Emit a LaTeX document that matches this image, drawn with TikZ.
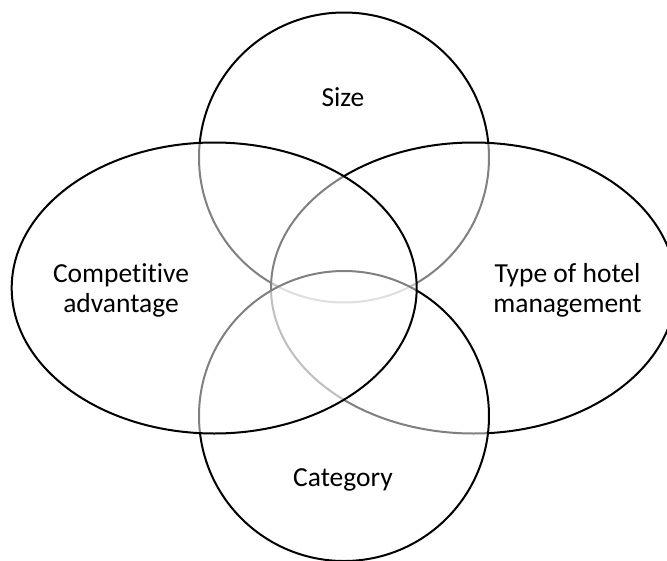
\documentclass[tikz,border=0pt]{standalone}
\usepackage{fontspec}
\setmainfont{Carlito}[Ligatures=NoCommon]
\usetikzlibrary{shapes.geometric}
\tikzset{venn/.style={draw=black,line width=2pt,fill=white,fill opacity=0.5,inner sep=0pt,outer sep=0pt}}
\tikzset{lbl/.style={font=\fontsize{27.5}{30}\selectfont,align=center,inner sep=0pt}}
\begin{document}
\begin{tikzpicture}[x=1pt,y=-1pt]
\useasboundingbox (0,0) rectangle (667,560);
% the four sets, drawn bottom layer first
\node[venn,circle,minimum size=290pt] (size) at (344,157.5) {};
\node[venn,ellipse,minimum width=405pt,minimum height=291pt] (mgmt) at (473.5,288) {};
\node[venn,circle,minimum size=290pt] (cat) at (344,416) {};
\node[venn,ellipse,minimum width=405pt,minimum height=291pt] (adv) at (214.2,288) {};

\node[lbl,anchor=base] (sizetxt) at (343,106.5) {Size};
\node[lbl,anchor=base] (cattxt) at (343,486.5) {Category};
\node[lbl,anchor=base] (advtxt) at (121,312) {Competitive\\advantage};
\node[lbl,anchor=base] (mgmttxt) at (567.5,312) {Type of hotel\\management};
\end{tikzpicture}
\end{document}
